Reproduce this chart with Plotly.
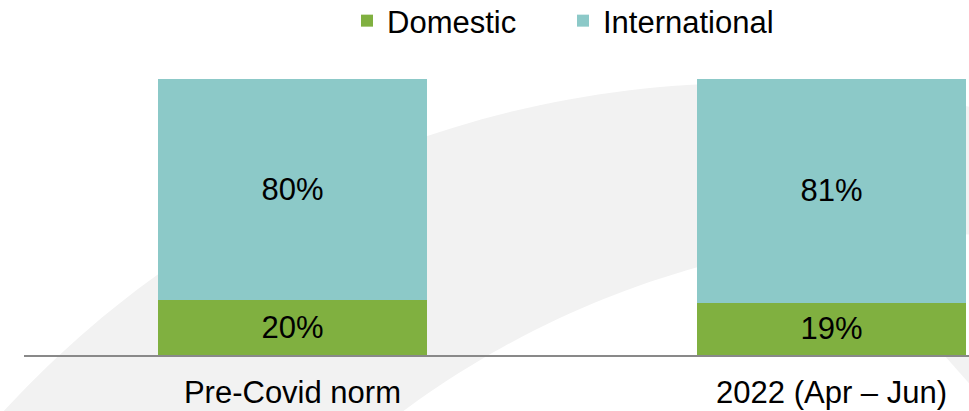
import numpy as np
import plotly.graph_objects as go

# Share of trips by market, in percent
periods = ["Pre-Covid norm", "2022 (Apr – Jun)"]
domestic = [20, 19]
international = [80, 81]

W, H = 969, 411
M_L, M_R, M_T, M_B = 24, 0, 79, 56
PLOT_W = W - M_L - M_R
PLOT_H = H - M_T - M_B

GREEN = "#80b040"
TEAL = "#8cc9c8"
FONT = "Liberation Sans, Arial, sans-serif"
FS = 31


def to_paper(px, py):
    """Convert page pixel positions into paper coordinates."""
    return (np.asarray(px) - M_L) / PLOT_W, (H - M_B - np.asarray(py)) / PLOT_H


def arc(cx, cy, r, a0, a1, n=120):
    t = np.linspace(a0, a1, n)
    return cx + r * np.cos(t), cy + r * np.sin(t)


# Decorative swoosh band behind the bars (two offset circles)
ox, oy = arc(751.0, 1098.0, 1015.0, np.radians(200), np.radians(300))
ix, iy = arc(940.0, 1136.0, 902.0, np.radians(300), np.radians(205))
bx = np.concatenate([ox, ix])
by = np.concatenate([oy, iy])
ux, uy = to_paper(bx, by)
band_path = "M " + " L ".join(f"{x:.5f},{y:.5f}" for x, y in zip(ux, uy)) + " Z"

tx, ty = to_paper([944, 975, 975], [355, 355, 390])
tri_path = "M " + " L ".join(f"{x:.5f},{y:.5f}" for x, y in zip(tx, ty)) + " Z"

fig = go.Figure()
fig.add_trace(go.Bar(
    name="Domestic", x=periods, y=domestic,
    marker=dict(color=GREEN, line=dict(width=0)),
    text=[f"{v}%" for v in domestic], textposition="inside",
    insidetextanchor="middle",
    textfont=dict(family=FONT, size=FS, color="#000000"),
    hoverinfo="skip",
))
fig.add_trace(go.Bar(
    name="International", x=periods, y=international,
    marker=dict(color=TEAL, line=dict(width=0)),
    text=[f"{v}%" for v in international], textposition="inside",
    insidetextanchor="middle",
    textfont=dict(family=FONT, size=FS, color="#000000"),
    hoverinfo="skip",
))

fig.update_layout(
    width=W, height=H,
    margin=dict(l=M_L, r=M_R, t=M_T, b=M_B, autoexpand=False),
    barmode="stack", bargap=0.501,
    paper_bgcolor="white", plot_bgcolor="rgba(0,0,0,0)",
    font=dict(family=FONT, size=FS, color="#000000"),
    showlegend=True,
    legend=dict(
        orientation="h", x=(347 - M_L) / PLOT_W, xanchor="left",
        y=(H - M_B - 21) / PLOT_H, yanchor="middle",
        font=dict(family=FONT, size=FS, color="#000000"),
        entrywidth=171, entrywidthmode="pixels",
        bgcolor="rgba(0,0,0,0)", traceorder="normal",
    ),
    xaxis=dict(
        type="category", range=[-0.498, 1.255],
        showline=True, linecolor="#898989", linewidth=2,
        showgrid=False, zeroline=False, ticks="",
        ticklabelstandoff=9,
        tickfont=dict(family=FONT, size=FS, color="#000000"),
    ),
    yaxis=dict(range=[0, 100], visible=False, fixedrange=True),
    shapes=[
        dict(type="path", path=band_path, xref="paper", yref="paper",
             fillcolor="#f2f2f2", line=dict(width=0), layer="below"),
        dict(type="path", path=tri_path, xref="paper", yref="paper",
             fillcolor="#f2f2f2", line=dict(width=0), layer="below"),
    ],
)

fig.write_html("out.html")
